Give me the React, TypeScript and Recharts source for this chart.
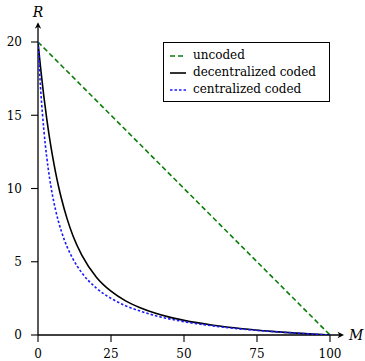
import React from "react";
import { LineChart, Line, XAxis, YAxis, ReferenceLine, Legend } from "recharts";

const cacheSize = [0, 0.5, 1, 2, 3, 4, 5, 6, 7, 8, 10, 12, 15, 20, 25, 30, 35, 40, 45, 50, 60, 70, 80, 90, 100];
const uncoded = [20, 19.9, 19.8, 19.6, 19.4, 19.2, 19, 18.8, 18.6, 18.4, 18, 17.6, 17, 16, 15, 14, 13, 12, 11, 10, 8, 6, 4, 2, 0];
const decentralized = [20, 18.99, 18.03, 16.29, 14.75, 13.39, 12.19, 11.12, 10.17, 9.33, 7.91, 6.76, 5.45, 3.95, 2.99, 2.33, 1.86, 1.5, 1.22, 1.0, 0.67, 0.43, 0.25, 0.11, 0];
const centralized = [20, 18.09, 16.5, 14.0, 12.13, 10.67, 9.5, 8.55, 7.75, 7.08, 6.0, 5.18, 4.25, 3.2, 2.5, 2.0, 1.63, 1.33, 1.1, 0.91, 0.62, 0.4, 0.24, 0.11, 0];

const xTicks = [0, 25, 50, 75, 100];
const yTicks = [0, 5, 10, 15, 20];

const seriesNames = ["uncoded", "decentralized coded", "centralized coded"];

const data = cacheSize.map((m, i) => ({
  M: m,
  uncoded: uncoded[i],
  decentralized: decentralized[i],
  centralized: centralized[i],
}));

const FONT = "DejaVu Serif";
const GREEN = "#0a7d0a";
const BLUE = "#1a1aff";

const YAxisArrow = (props: any) => {
  const { x1, y1, x2, y2 } = props;
  const x = x2, y = y2;
  return (
    <g>
      <line x1={x1} y1={y1} x2={x} y2={y + 3} stroke="#000" strokeWidth={1.3} />
      <path d={`M${x},${y} L${x - 3.2},${y + 6.5} L${x},${y + 4.6} L${x + 3.2},${y + 6.5} Z`} fill="#000" />
      <text x={x} y={y - 5} textAnchor="middle" fontFamily={FONT} fontStyle="italic" fontSize={14} fill="#000">R</text>
    </g>
  );
};

const XAxisArrow = (props: any) => {
  const { x1, y1, x2, y2 } = props;
  const x = x2, y = y2;
  return (
    <g>
      <line x1={x1} y1={y1} x2={x - 3} y2={y} stroke="#000" strokeWidth={1.3} />
      <path d={`M${x},${y} L${x - 6.5},${y - 3.2} L${x - 4.6},${y} L${x - 6.5},${y + 3.2} Z`} fill="#000" />
      <text x={x + 5} y={y + 5} textAnchor="start" fontFamily={FONT} fontStyle="italic" fontSize={14} fill="#000">M</text>
    </g>
  );
};

const legendRows = [
  { name: seriesNames[0], color: GREEN, dash: "5 3" },
  { name: seriesNames[1], color: "#000", dash: "" },
  { name: seriesNames[2], color: BLUE, dash: "2.5 2" },
];

const renderLegend = () => (
  <div
    style={{
      position: "relative",
      width: 167,
      height: 60,
      boxSizing: "border-box",
      border: "1px solid #000",
      background: "#fff",
      fontFamily: FONT,
      fontSize: 12,
      color: "#000",
    }}
  >
    {legendRows.map((r, i) => (
      <div key={r.name} style={{ position: "absolute", left: 0, top: 13 + i * 17 - 10, height: 20, width: 165 }}>
        <svg width={24} height={20} style={{ position: "absolute", left: 6, top: 0 }}>
          <line x1={0} y1={10} x2={16} y2={10} stroke={r.color} strokeWidth={1.6} strokeDasharray={r.dash || undefined} />
        </svg>
        <span style={{ position: "absolute", left: 29, top: 0, lineHeight: "19px", whiteSpace: "nowrap" }}>{r.name}</span>
      </div>
    ))}
  </div>
);

export default function App() {
  return (
    <div style={{ position: "absolute", left: 0, top: 0, background: "#fff" }}>
      <LineChart width={365} height={361} data={data} margin={{ top: 42, right: 35, bottom: 0, left: 0 }}>
        <XAxis
          dataKey="M"
          type="number"
          domain={[0, 100]}
          ticks={xTicks}
          height={26}
          axisLine={false}
          tickSize={7}
          tickMargin={7}
          tickLine={{ stroke: "#000", strokeWidth: 1.1 }}
          tick={{ fill: "#000", fontFamily: FONT, fontSize: 12 }}
          allowDataOverflow
        />
        <YAxis
          type="number"
          domain={[0, 20]}
          ticks={yTicks}
          width={38}
          axisLine={false}
          tickSize={7}
          tickMargin={9}
          tickLine={{ stroke: "#000", strokeWidth: 1.1 }}
          tick={{ fill: "#000", fontFamily: FONT, fontSize: 12 }}
          allowDataOverflow
        />
        <ReferenceLine segment={[{ x: 0, y: 0 }, { x: 0, y: 21.35 }]} ifOverflow="visible" shape={YAxisArrow} />
        <ReferenceLine segment={[{ x: 0, y: 0 }, { x: 104.8, y: 0 }]} ifOverflow="visible" shape={XAxisArrow} />
        <Line
          dataKey="uncoded"
          name={seriesNames[0]}
          type="linear"
          stroke={GREEN}
          strokeWidth={1.6}
          strokeDasharray="5 3"
          dot={false}
          isAnimationActive={false}
        />
        <Line
          dataKey="decentralized"
          name={seriesNames[1]}
          type="monotone"
          stroke="#000"
          strokeWidth={1.6}
          dot={false}
          isAnimationActive={false}
        />
        <Line
          dataKey="centralized"
          name={seriesNames[2]}
          type="monotone"
          stroke={BLUE}
          strokeWidth={1.6}
          strokeDasharray="2.5 2"
          dot={false}
          isAnimationActive={false}
        />
        <Legend
          layout="horizontal"
          verticalAlign="middle"
          align="center"
          content={renderLegend}
          wrapperStyle={{ left: 163, top: 42, width: 167, height: 60 }}
        />
      </LineChart>
    </div>
  );
}
